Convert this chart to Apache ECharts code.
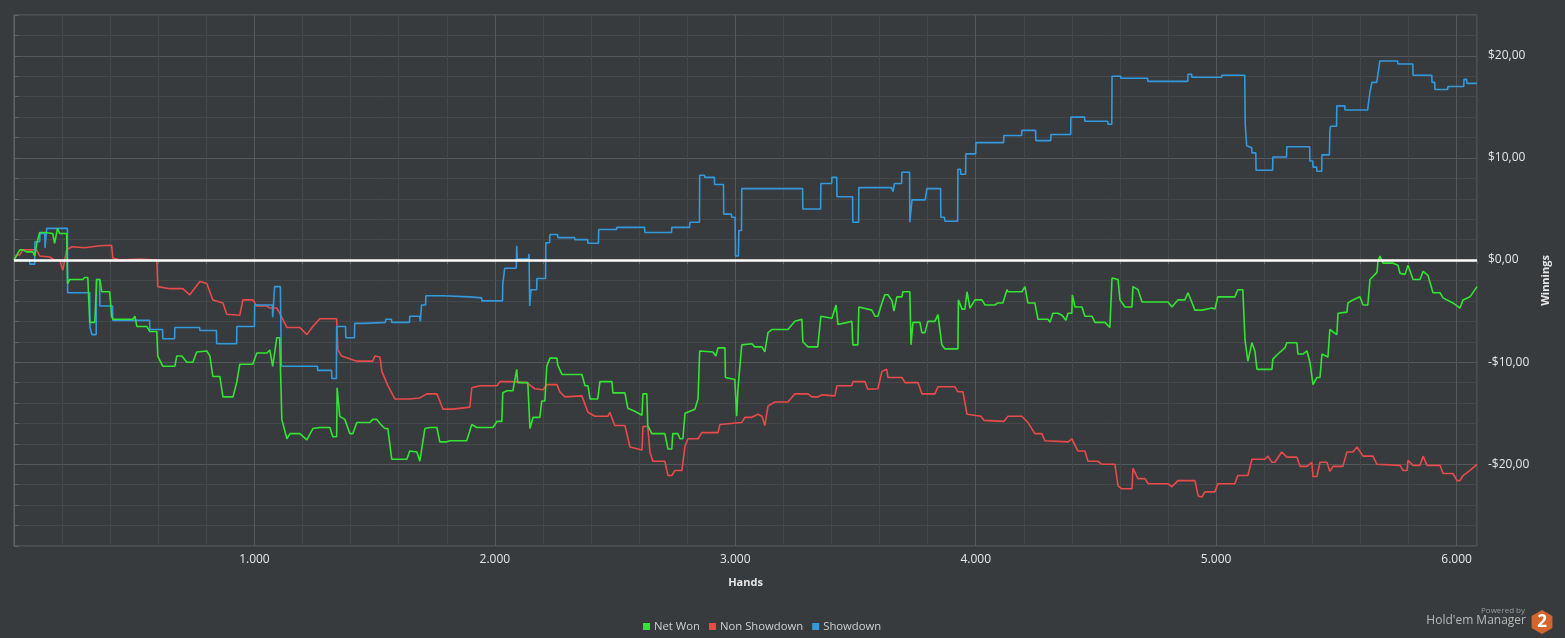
<!DOCTYPE html>
<html>
<head>
<meta charset="utf-8">
<script src="https://cdn.jsdelivr.net/npm/echarts@6/dist/echarts.min.js"></script>
<style>
html,body{margin:0;padding:0;background:#383b3e;}
#chart{width:1565px;height:638px;}
</style>
</head>
<body>
<div id="chart"></div>
<script>
// ---- Data: [hand, winnings in $] ----
const seriesNames = ['Net Won', 'Non Showdown', 'Showdown'];

const netWon = [
[0,0],[24,1.0],[36,1.0],[53,0.8],[78,0.8],[86,0.4],[93,0.4],[95,1.65],[107,2.7],[128,2.7],[136,2.6],[161,2.6],[169,1.65],[181,3.1],[190,2.6],[219,2.6],[223,-2.3],[232,-1.9],[286,-1.9],[294,-1.7],[307,-1.7],[315,-6.1],[336,-6.1],[344,-1.9],[357,-1.9],[365,-3.1],[398,-3.1],[406,-5.5],[411,-5.8],[494,-5.8],[503,-5.5],[511,-6.5],[552,-6.5],[565,-7.0],[594,-7.0],[598,-9.4],[619,-10.4],[669,-10.4],[677,-9.4],[698,-9.4],[719,-10.0],[744,-10.0],[760,-9.0],[802,-8.9],[815,-9.4],[827,-11.4],[856,-11.4],[869,-13.4],[911,-13.4],[927,-11.9],[939,-10.2],[993,-10.2],[1010,-9.1],[1052,-9.1],[1064,-8.8],[1076,-10.4],[1093,-7.6],[1105,-7.6],[1114,-15.6],[1135,-17.5],[1148,-17.0],[1189,-17.0],[1218,-17.6],[1243,-16.5],[1272,-16.4],[1314,-16.4],[1326,-17.3],[1342,-17.3],[1344,-12.5],[1355,-15.3],[1376,-15.6],[1397,-17.0],[1409,-17.0],[1426,-15.9],[1480,-15.9],[1492,-15.6],[1509,-15.6],[1522,-16.0],[1542,-16.5],[1555,-16.5],[1571,-19.5],[1634,-19.5],[1646,-18.7],[1676,-18.8],[1688,-19.7],[1709,-16.5],[1730,-16.4],[1759,-16.4],[1771,-17.8],[1800,-17.8],[1813,-17.7],[1883,-17.7],[1904,-16.1],[1925,-16.4],[1992,-16.4],[2009,-15.8],[2029,-15.8],[2033,-13.0],[2050,-12.8],[2075,-12.8],[2091,-10.7],[2095,-12.0],[2137,-12.0],[2146,-16.5],[2159,-15.4],[2187,-15.4],[2195,-13.8],[2208,-13.8],[2216,-10.4],[2229,-9.6],[2258,-9.6],[2262,-10.3],[2279,-11.2],[2362,-11.2],[2375,-12.3],[2387,-12.3],[2396,-13.6],[2428,-13.6],[2437,-11.9],[2487,-11.9],[2491,-13.0],[2541,-13.0],[2553,-14.5],[2582,-14.8],[2612,-15.2],[2616,-13.1],[2632,-13.1],[2636,-16.2],[2653,-17.0],[2707,-17.0],[2720,-18.5],[2736,-18.5],[2740,-17.0],[2761,-17.0],[2770,-17.5],[2782,-17.5],[2791,-15.0],[2832,-14.6],[2845,-13.6],[2852,-8.9],[2907,-9.0],[2919,-9.4],[2928,-8.6],[2957,-8.6],[2959,-11.5],[2998,-11.7],[3006,-15.3],[3011,-12.65],[3027,-8.3],[3069,-8.2],[3081,-8.5],[3111,-8.5],[3123,-9.0],[3136,-7.1],[3152,-6.8],[3219,-6.8],[3248,-6.0],[3277,-5.8],[3281,-8.0],[3302,-8.5],[3343,-8.5],[3356,-5.5],[3402,-5.7],[3419,-4.4],[3427,-6.3],[3485,-6.0],[3489,-8.3],[3510,-8.3],[3514,-4.6],[3568,-4.9],[3581,-5.5],[3593,-5.5],[3610,-4.2],[3622,-3.4],[3635,-3.4],[3652,-4.0],[3660,-5.0],[3672,-3.6],[3693,-3.6],[3697,-3.1],[3726,-3.1],[3731,-8.3],[3739,-6.1],[3768,-6.1],[3776,-7.1],[3789,-7.1],[3801,-6.0],[3830,-6.0],[3843,-5.35],[3859,-8.3],[3872,-8.7],[3926,-8.7],[3928,-3.9],[3943,-4.8],[3955,-4.8],[3964,-3.1],[3976,-4.7],[3997,-3.9],[4026,-3.9],[4039,-4.4],[4080,-4.4],[4092,-4.2],[4113,-4.2],[4130,-2.9],[4134,-3.1],[4192,-3.1],[4205,-2.6],[4217,-4.2],[4246,-4.2],[4259,-5.8],[4301,-5.8],[4309,-6.1],[4321,-5.2],[4342,-5.2],[4359,-5.4],[4375,-5.9],[4384,-5.2],[4400,-5.2],[4402,-3.4],[4413,-4.6],[4442,-4.6],[4454,-5.5],[4484,-5.5],[4496,-6.1],[4538,-6.1],[4558,-6.6],[4567,-1.75],[4592,-1.9],[4600,-3.9],[4621,-4.6],[4650,-4.6],[4654,-2.6],[4675,-2.9],[4692,-4.1],[4800,-4.1],[4816,-4.6],[4841,-3.9],[4870,-3.9],[4883,-3.2],[4912,-4.9],[4941,-4.9],[4983,-4.7],[4995,-4.8],[5007,-3.6],[5078,-3.6],[5090,-2.9],[5111,-2.9],[5120,-7.8],[5132,-9.9],[5149,-8.1],[5161,-8.9],[5170,-10.7],[5232,-10.7],[5236,-9.7],[5257,-9.2],[5286,-8.6],[5294,-8.1],[5336,-8.1],[5340,-9.2],[5361,-9.2],[5378,-8.9],[5390,-10.0],[5403,-12.2],[5419,-11.5],[5432,-11.5],[5440,-9.2],[5465,-9.5],[5473,-6.8],[5502,-7.3],[5507,-5.2],[5544,-5.1],[5548,-4.2],[5569,-3.9],[5598,-3.6],[5611,-4.4],[5631,-4.4],[5640,-1.9],[5669,-1.2],[5673,-0.2],[5681,0.4],[5694,-0.3],[5736,-0.3],[5756,-0.5],[5765,-1.3],[5786,-1.4],[5798,-0.5],[5806,-0.5],[5819,-1.9],[5848,-1.9],[5861,-1.1],[5881,-1.5],[5902,-3.2],[5931,-3.2],[5944,-3.7],[5985,-4.2],[6014,-4.7],[6027,-3.9],[6056,-3.6],[6085,-2.6]
];

const nonShowdown = [
[0,0],[11,0.5],[24,0.5],[36,1.0],[94,1.0],[107,0.4],[149,0.3],[169,0],[190,0],[203,-1.0],[219,1.0],[240,1.3],[294,1.2],[357,1.4],[406,1.45],[411,0.2],[440,0],[523,0.1],[594,0],[598,-2.6],[648,-2.8],[702,-2.8],[731,-3.4],[773,-2.1],[802,-2.3],[827,-3.9],[869,-4.2],[885,-5.3],[939,-5.4],[952,-3.9],[993,-3.9],[1010,-4.5],[1052,-4.5],[1064,-4.7],[1093,-4.7],[1105,-5.2],[1135,-6.6],[1189,-6.6],[1218,-7.3],[1243,-6.5],[1272,-5.75],[1342,-5.75],[1347,-8.8],[1363,-9.4],[1426,-9.9],[1492,-9.9],[1501,-9.4],[1522,-9.5],[1530,-10.9],[1555,-12.3],[1584,-13.6],[1646,-13.6],[1688,-13.5],[1717,-13.1],[1759,-13.1],[1771,-13.8],[1784,-14.6],[1825,-14.6],[1896,-14.4],[1904,-12.5],[1938,-12.3],[2009,-12.3],[2021,-11.9],[2063,-11.9],[2133,-12.0],[2166,-12.6],[2200,-12.7],[2216,-12.2],[2258,-12.2],[2270,-12.9],[2291,-13.4],[2362,-13.3],[2387,-14.9],[2416,-15.3],[2470,-15.3],[2478,-14.9],[2499,-16.2],[2541,-16.2],[2562,-18.3],[2612,-18.6],[2616,-16.3],[2636,-16.3],[2645,-18.8],[2657,-19.7],[2707,-19.7],[2720,-21.1],[2736,-21.1],[2749,-20.6],[2778,-20.6],[2791,-18.2],[2803,-17.5],[2845,-17.5],[2861,-16.9],[2928,-16.9],[2936,-16.1],[3027,-15.9],[3040,-15.4],[3069,-15.4],[3094,-15.1],[3111,-15.3],[3123,-16.2],[3136,-14.3],[3165,-13.9],[3219,-13.9],[3248,-13.1],[3302,-13.1],[3319,-13.4],[3343,-13.4],[3360,-13.2],[3414,-13.3],[3423,-12.3],[3485,-12.3],[3489,-11.9],[3539,-11.9],[3551,-12.65],[3593,-12.6],[3610,-10.9],[3630,-10.7],[3635,-11.5],[3693,-11.5],[3706,-12.0],[3760,-12.0],[3776,-13.1],[3830,-13.1],[3843,-12.4],[3913,-12.4],[3926,-12.9],[3947,-12.9],[3964,-15.1],[4022,-15.3],[4035,-15.7],[4117,-15.8],[4134,-15.3],[4192,-15.3],[4217,-15.9],[4246,-17.0],[4275,-17.0],[4288,-17.7],[4384,-17.8],[4400,-17.5],[4425,-18.7],[4454,-18.7],[4467,-19.7],[4508,-19.7],[4525,-20.0],[4579,-20.0],[4592,-22.1],[4608,-22.4],[4650,-22.4],[4654,-20.4],[4675,-21.4],[4704,-21.4],[4717,-21.9],[4800,-21.9],[4816,-22.2],[4841,-21.6],[4912,-21.6],[4925,-23.1],[4941,-23.2],[4953,-22.7],[4995,-22.7],[5007,-21.9],[5078,-21.9],[5090,-21.1],[5132,-21.1],[5149,-19.5],[5203,-19.5],[5215,-19.2],[5232,-19.8],[5244,-19.8],[5273,-18.8],[5294,-19.3],[5336,-19.3],[5349,-20.2],[5378,-20.2],[5398,-19.8],[5403,-21.2],[5419,-21.2],[5432,-19.8],[5461,-19.8],[5473,-20.7],[5486,-20.2],[5527,-20.2],[5544,-18.8],[5569,-18.8],[5586,-18.3],[5611,-19.2],[5652,-19.2],[5669,-20.0],[5765,-20.1],[5777,-20.6],[5794,-20.6],[5798,-19.6],[5819,-20.1],[5848,-20.1],[5861,-19.2],[5877,-20.1],[5931,-20.1],[5944,-20.9],[5985,-20.9],[6002,-21.6],[6014,-21.6],[6027,-21.1],[6056,-20.6],[6085,-20.0]
];

const showdown = [
[0,0],[65,0],[66,-0.4],[86,-0.4],[87,1.8],[107,1.8],[108,2.6],[128,2.6],[129,1.2],[135,1.2],[136,3.1],[222,3.1],[223,-3.2],[315,-3.2],[316,-6.6],[324,-7.3],[342,-7.3],[343,-1.9],[356,-1.9],[357,-4.5],[410,-4.5],[411,-5.9],[564,-5.9],[565,-6.8],[618,-6.8],[619,-7.7],[668,-7.7],[669,-6.6],[772,-6.6],[773,-6.9],[842,-6.9],[843,-8.2],[926,-8.2],[927,-6.5],[1000,-6.5],[1001,-4.4],[1075,-4.4],[1076,-5.6],[1082,-5.6],[1084,-2.6],[1108,-2.6],[1112,-10.4],[1262,-10.4],[1263,-10.8],[1321,-10.8],[1322,-11.6],[1341,-11.6],[1342,-6.5],[1379,-6.5],[1380,-7.6],[1416,-7.6],[1417,-6.2],[1458,-6.2],[1459,-6.1],[1545,-6.1],[1546,-5.8],[1570,-5.8],[1571,-6.1],[1645,-6.1],[1646,-5.5],[1687,-5.5],[1690,-6.0],[1695,-4.4],[1712,-4.4],[1713,-3.5],[1783,-3.5],[1784,-3.6],[1895,-3.6],[1896,-3.7],[1945,-3.7],[1946,-4.0],[2032,-4.0],[2033,-2.3],[2040,-2.3],[2041,-0.8],[2089,-0.8],[2091,1.4],[2093,0.1],[2140,0.1],[2142,0.6],[2145,-4.5],[2150,-2.9],[2174,-2.9],[2175,-1.8],[2211,-1.8],[2212,1.7],[2228,1.7],[2229,2.5],[2261,2.5],[2262,2.2],[2332,2.2],[2333,2.0],[2386,2.0],[2387,1.65],[2431,1.65],[2432,3.0],[2506,3.0],[2507,3.2],[2623,3.2],[2624,2.7],[2735,2.7],[2736,3.2],[2810,3.2],[2811,3.7],[2851,3.7],[2852,8.3],[2872,8.3],[2873,8.1],[2913,8.1],[2914,7.4],[2951,7.4],[2952,4.5],[2984,4.5],[2985,4.2],[2999,4.2],[3001,0.4],[3013,0.4],[3015,2.9],[3026,2.9],[3027,7.0],[3280,7.0],[3281,5.0],[3355,5.0],[3356,7.5],[3401,7.5],[3402,8.1],[3422,8.1],[3423,6.2],[3488,6.2],[3489,3.7],[3513,3.7],[3514,7.1],[3650,7.1],[3656,6.7],[3662,7.5],[3692,7.5],[3693,8.6],[3725,8.6],[3726,3.7],[3733,3.7],[3735,5.9],[3790,5.9],[3797,7.0],[3854,7.0],[3855,4.2],[3870,4.2],[3872,3.8],[3925,3.8],[3926,8.9],[3937,8.9],[3938,8.4],[3958,8.4],[3959,10.4],[4000,10.4],[4001,11.5],[4116,11.5],[4117,12.2],[4191,12.2],[4192,12.7],[4249,12.7],[4250,11.7],[4312,11.7],[4313,12.3],[4395,12.3],[4396,14.0],[4453,14.0],[4454,13.6],[4549,13.6],[4550,13.3],[4566,13.3],[4567,18.0],[4603,18.0],[4604,17.8],[4715,17.8],[4716,17.5],[4882,17.5],[4883,18.2],[4898,18.2],[4899,17.9],[5023,17.9],[5024,18.1],[5119,18.1],[5121,13.3],[5127,11.2],[5148,11.0],[5149,10.5],[5165,10.5],[5166,8.8],[5235,8.8],[5236,10.1],[5293,10.1],[5294,11.1],[5389,11.1],[5390,9.7],[5402,9.7],[5403,9.1],[5418,9.1],[5419,8.7],[5439,8.7],[5440,10.3],[5471,10.3],[5473,12.65],[5476,13.1],[5501,13.1],[5502,15.1],[5535,15.1],[5536,14.7],[5630,14.7],[5640,16.5],[5648,17.4],[5668,17.4],[5681,19.5],[5755,19.5],[5756,19.2],[5818,19.2],[5819,18.1],[5897,18.1],[5898,17.4],[5909,17.4],[5910,16.7],[5963,16.7],[5964,17.0],[6030,17.0],[6031,17.7],[6042,17.7],[6043,17.3],[6085,17.3]
];

// axis settings (values)
const handsMax = 6085;
const winMin = -28, winMax = 24;

// ---- Styles ----
const BG = '#383b3e';
const MINOR = '#45484b';
const MAJOR = '#56595c';
const BORDER = '#5f6366';
const TXT = '#e6e6e6';
const FONT = 'Open Sans';
const colors = ['#33e433', '#e84a4a', '#3399dd'];

const chart = echarts.init(document.getElementById('chart'), null, {renderer: 'canvas'});

function fmtHands(v) {
  if (v <= 0 || v % 1000 !== 0) return '';
  return (v / 1000) + '.000';
}
function fmtMoney(v) {
  if (v % 10 !== 0) return '';
  return (v < 0 ? '-' : '') + '$' + Math.abs(v) + ',00';
}

const option = {
  backgroundColor: BG,
  animation: false,
  textStyle: {fontFamily: FONT},
  color: colors,
  grid: {
    left: 14, right: 88, top: 15, bottom: 92,
    show: true, borderColor: BORDER, borderWidth: 1, backgroundColor: 'transparent'
  },
  legend: {
    data: seriesNames,
    bottom: 1,
    left: 638,
    icon: 'rect',
    itemWidth: 7,
    itemHeight: 7,
    itemGap: 9,
    textStyle: {color: '#cfcfcf', fontSize: 11.3, fontFamily: FONT, padding: [0, 0, 0, -1]},
    selectedMode: false
  },
  xAxis: {
    type: 'value',
    min: 0,
    max: handsMax,
    interval: 200,
    name: 'Hands',
    nameLocation: 'middle',
    nameGap: 31,
    nameTextStyle: {color: TXT, fontSize: 11, fontWeight: 'bold', fontFamily: FONT},
    axisLine: {show: true, lineStyle: {color: BORDER, width: 1}},
    axisTick: {show: true, length: 4, lineStyle: {color: BORDER}},
    axisLabel: {color: TXT, fontSize: 12, margin: 8, formatter: fmtHands, showMinLabel: true, showMaxLabel: true},
    splitLine: {show: true, showMinLine: true, showMaxLine: true, lineStyle: {color: [MAJOR, MINOR, MINOR, MINOR, MINOR], width: 1}}
  },
  yAxis: {
    type: 'value',
    position: 'right',
    min: winMin,
    max: winMax,
    interval: 2,
    name: 'Winnings',
    nameLocation: 'middle',
    nameRotate: 90,
    nameGap: 61,
    nameTextStyle: {color: TXT, fontSize: 11, fontWeight: 'bold', fontFamily: FONT},
    axisLine: {show: true, lineStyle: {color: BORDER, width: 1}},
    axisTick: {show: true, length: 5, lineStyle: {color: BORDER}},
    axisLabel: {color: TXT, fontSize: 12, margin: 11, formatter: fmtMoney},
    splitLine: {show: true, showMinLine: true, showMaxLine: true, lineStyle: {color: [MINOR, MINOR, MINOR, MINOR, MAJOR], width: 1}}
  },
  series: [
    {
      name: seriesNames[0], type: 'line', data: netWon, showSymbol: false, symbol: 'none',
      lineStyle: {width: 1.6, color: colors[0]}, itemStyle: {color: colors[0]}, z: 3
    },
    {
      name: seriesNames[1], type: 'line', data: nonShowdown, showSymbol: false, symbol: 'none',
      lineStyle: {width: 1.6, color: colors[1]}, itemStyle: {color: colors[1]}, z: 2
    },
    {
      name: seriesNames[2], type: 'line', data: showdown, showSymbol: false, symbol: 'none',
      lineStyle: {width: 1.6, color: colors[2]}, itemStyle: {color: colors[2]}, z: 2,
      markLine: {
        silent: true, symbol: 'none', label: {show: false},
        lineStyle: {color: '#ffffff', width: 2.5, type: 'solid'},
        data: [{yAxis: 0}]
      }
    }
  ],
  graphic: [
    {type: 'text', right: 40, top: 607, style: {text: 'Powered by', fill: '#9a9a9a', font: '8px "Open Sans"', textAlign: 'right'}},
    {type: 'text', right: 39, top: 615, style: {text: "Hold'em Manager", fill: '#b8b8b8', font: '12px "Open Sans"', textAlign: 'right'}},
    {type: 'polygon', shape: {points: [[1542,610],[1552.4,616],[1552.4,628],[1542,634],[1531.6,628],[1531.6,616]]}, style: {fill: '#d4652c'}},
    {type: 'text', x: 1542, y: 622, style: {text: '2', fill: '#ffffff', font: 'bold 17px "Open Sans"', textAlign: 'center', textVerticalAlign: 'middle'}}
  ]
};
chart.setOption(option);
</script>
</body>
</html>
